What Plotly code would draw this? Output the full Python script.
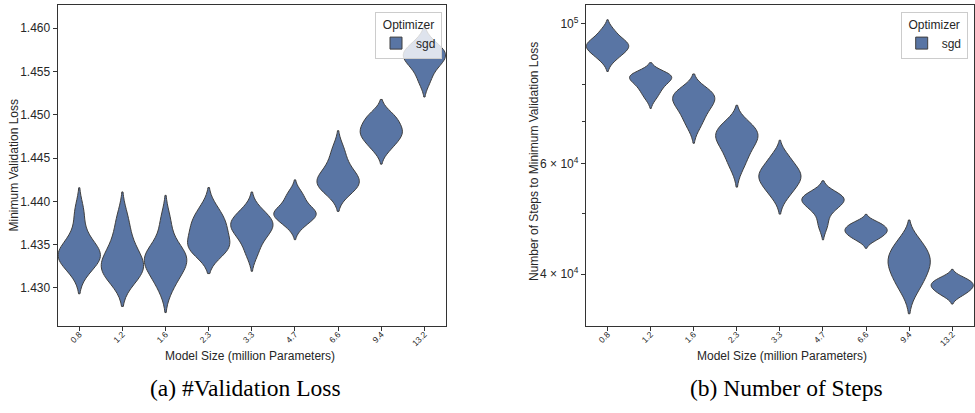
import numpy as np
import plotly.graph_objects as go

# ---------------- data ----------------
model_sizes = ["0.8", "1.2", "1.6", "2.3", "3.3", "4.7", "6.6", "9.4", "13.2"]

# minimum validation loss per run (optimizer: sgd)
val_loss_0_8 = [1.4321, 1.4330, 1.4335, 1.4339, 1.4342, 1.4346, 1.4362, 1.4388]
val_loss_1_2 = [1.43095, 1.4317, 1.4322, 1.4327, 1.4333, 1.4343, 1.4358, 1.4380]
val_loss_1_6 = [1.43015, 1.4316, 1.4326, 1.4331, 1.4335, 1.4340, 1.4350, 1.4377]
val_loss_2_3 = [1.43405, 1.4345, 1.4349, 1.4356, 1.4365, 1.4374, 1.4379, 1.4392]
val_loss_3_3 = [1.4340, 1.4355, 1.4363, 1.4369, 1.4373, 1.4377, 1.4381, 1.4390]
val_loss_4_7 = [1.43715, 1.4379, 1.4383, 1.4386, 1.4388, 1.4391, 1.4401, 1.4409]
val_loss_6_6 = [1.4410, 1.4416, 1.4420, 1.4424, 1.4428, 1.4434, 1.4445, 1.4460]
val_loss_9_4 = [1.44605, 1.4469, 1.4475, 1.4479, 1.4483, 1.4488, 1.4496, 1.4500]
val_loss_13_2 = [1.4539, 1.4553, 1.4560, 1.4565, 1.4569, 1.4572, 1.4576, 1.4584]

# number of steps to minimum validation loss per run (optimizer: sgd)
steps_0_8 = [88000, 89900, 91100, 92000, 92700, 93600, 95000, 97600]
steps_1_2 = [76600, 78600, 80000, 81200, 82000, 82600, 83100, 83600]
steps_1_6 = [69000, 71500, 73500, 74800, 75800, 76800, 77800, 78900]
steps_2_3 = [59500, 62000, 64000, 65300, 66300, 67200, 68300, 69800]
steps_3_3 = [53400, 55000, 56200, 57000, 57700, 58600, 59900, 61800]
steps_4_7 = [47900, 50300, 51400, 52000, 52500, 52900, 53300, 53800]
steps_6_6 = [45350, 45950, 46400, 46800, 47100, 47500, 47950, 48450]
steps_9_4 = [37900, 39300, 40500, 41400, 42200, 43000, 44000, 45500]
steps_13_2 = [37000, 37500, 37900, 38200, 38500, 38800, 39100, 39600]

val_loss = [val_loss_0_8, val_loss_1_2, val_loss_1_6, val_loss_2_3, val_loss_3_3,
            val_loss_4_7, val_loss_6_6, val_loss_9_4, val_loss_13_2]
steps = [steps_0_8, steps_1_2, steps_1_6, steps_2_3, steps_3_3,
         steps_4_7, steps_6_6, steps_9_4, steps_13_2]

left_yticks = [1.430, 1.435, 1.440, 1.445, 1.450, 1.455, 1.460]
right_yticks = [4e4, 6e4, 1e5]
right_yticktext = ["4 × 10<sup>4</sup>", "6 × 10<sup>4</sup>", "10<sup>5</sup>"]
right_minor = [5e4, 7e4, 8e4]

# ---------------- style ----------------
FILL = "#5975a4"
EDGE = "#3f3f3f"
AX = "#333333"
TXT = "#262626"
SANS = "Liberation Sans, Arial, sans-serif"
SERIF = "Liberation Serif, Times New Roman, serif"

fig = go.Figure()


def scott_bw(v):
    v = np.asarray(v, dtype=float)
    return float(np.std(v, ddof=1) * len(v) ** (-0.2))


def add_violins(groups, xa, ya, legend):
    for i, (cat, vals) in enumerate(zip(model_sizes, groups)):
        fig.add_trace(go.Violin(
            x=[cat] * len(vals), y=vals, xaxis=xa, yaxis=ya,
            name="sgd", legendgroup=legend, legend=legend,
            showlegend=(i == 0),
            bandwidth=scott_bw(vals), spanmode="soft",
            scalemode="width", width=0.98,
            points=False, box_visible=False, meanline_visible=False,
            fillcolor=FILL, opacity=1,
            line=dict(color=EDGE, width=1),
            hoverinfo="skip",
        ))


add_violins(val_loss, "x", "y", "legend")
add_violins(steps, "x2", "y2", "legend2")

ydom = [1 - 326 / 413, 1 - 5 / 413]
axis_common = dict(
    showline=True, linecolor=AX, linewidth=1.25, mirror=True,
    ticks="outside", ticklen=4, tickwidth=1, tickcolor=AX,
    showgrid=False, zeroline=False,
)
xcommon = dict(
    axis_common, type="category", categoryorder="array", categoryarray=model_sizes,
    range=[-0.5, 8.5], tickangle=-45, ticklabelstandoff=-5,
    tickfont=dict(family=SANS, size=8.5, color=TXT),
)

fig.update_layout(
    width=975, height=413,
    margin=dict(l=0, r=0, t=0, b=0),
    paper_bgcolor="white", plot_bgcolor="white",
    violinmode="overlay",
    xaxis=dict(xcommon, domain=[57.7 / 975, 446 / 975], anchor="y"),
    xaxis2=dict(xcommon, domain=[586 / 975, 973.8 / 975], anchor="y2"),
    yaxis=dict(axis_common, domain=ydom, anchor="x",
               range=[1.42561, 1.46266], tickvals=left_yticks, tickformat=".3f",
               tickfont=dict(family=SANS, size=12, color=TXT)),
    yaxis2=dict(axis_common, domain=ydom, anchor="x2", type="log",
                range=[np.log10(33100), np.log10(107200)],
                tickvals=right_yticks, ticktext=right_yticktext,
                tickfont=dict(family=SANS, size=12, color=TXT),
                minor=dict(tickvals=right_minor, ticks="outside", ticklen=2.5,
                           tickcolor=AX, showgrid=False)),
    legend=dict(
        x=442 / 975, xanchor="right", y=1 - 12 / 413, yanchor="top",
        bgcolor="rgba(255,255,255,0.8)", bordercolor="#cccccc", borderwidth=1,
        font=dict(family=SANS, size=12, color=TXT),
        title=dict(text="Optimizer", side="top center",
                   font=dict(family=SANS, size=12, color=TXT)),
    ),
    legend2=dict(
        x=967.7 / 975, xanchor="right", y=1 - 12 / 413, yanchor="top",
        bgcolor="rgba(255,255,255,0.8)", bordercolor="#cccccc", borderwidth=1,
        font=dict(family=SANS, size=12, color=TXT),
        title=dict(text="Optimizer", side="top center",
                   font=dict(family=SANS, size=12, color=TXT)),
    ),
)

ann_font = dict(family=SANS, size=12, color=TXT)
cap_font = dict(family=SERIF, size=23.5, color="black")
annotations = [
    dict(text="Minimum Validation Loss", x=13 / 975, y=1 - 165.5 / 413, textangle=-90,
         font=ann_font),
    dict(text="Model Size (million Parameters)", x=250 / 975, y=1 - 356 / 413, font=ann_font),
    dict(text="Number of Steps to Minimum Validation Loss", x=534 / 975, y=1 - 162 / 413,
         textangle=-90, font=ann_font),
    dict(text="Model Size (million Parameters)", x=782 / 975, y=1 - 356 / 413, font=ann_font),
    dict(text="(a) #Validation Loss", x=246 / 975, y=1 - 388 / 413, font=cap_font),
    dict(text="(b) Number of Steps", x=786 / 975, y=1 - 388 / 413, font=cap_font),
]
for a in annotations:
    fig.add_annotation(xref="paper", yref="paper", showarrow=False,
                       xanchor="center", yanchor="middle", **a)

fig.write_html("out.html")
